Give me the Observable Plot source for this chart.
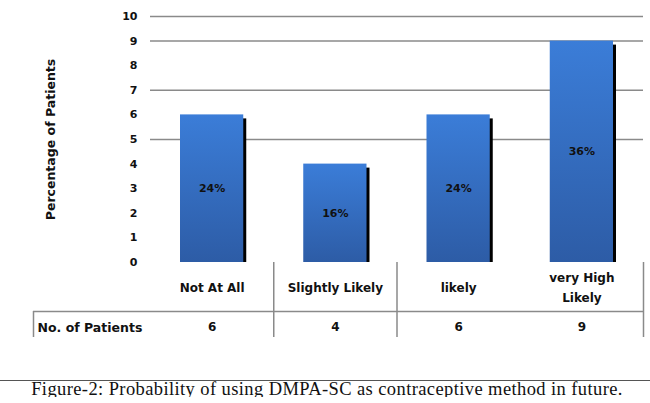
<!DOCTYPE html>
<html>
<head>
<meta charset="utf-8">
<script src="https://cdn.jsdelivr.net/npm/d3@7"></script>
<script src="https://cdn.jsdelivr.net/npm/@observablehq/plot@0.6"></script>
<style>
  html, body { margin: 0; padding: 0; background: #fff; }
  #chart svg { display: block; }
  #caption {
    width: 650px;
    margin-top: 35px;
    border-top: 1.5px solid #555;
    font-family: "Liberation Serif", serif;
    font-size: 18.5px;
    letter-spacing: 0.4px;
    line-height: 16px;
    text-align: center;
    color: #111;
    padding-left: 4px;
    box-sizing: border-box;
    white-space: nowrap;
  }
</style>
</head>
<body>
<div id="chart"></div>
<div id="caption">Figure-2: Probability of using DMPA-SC as contraceptive method in future.</div>
<script>
// ---- data ----
const categories = ["Not At All", "Slightly Likely", "likely", "very High\nLikely"];
const patients = [6, 4, 6, 9];
const percentLabels = ["24%", "16%", "24%", "36%"];
const yTicks = [0, 1, 2, 3, 4, 5, 6, 7, 8, 9, 10];
const gridValues = [5, 7, 9, 10];
const separatorPositions = [1, 2, 4];
const yTitle = "Percentage of Patients";
const rowTitle = "No. of Patients";

const rows = categories.map((c, i) => ({
  cat: c, i0: i, i1: i + 1, mid: i + 0.5,
  value: patients[i], pct: percentLabels[i]
}));

const font = "DejaVu Sans";

const plot = Plot.plot({
  width: 650,
  height: 345,
  marginTop: 16,
  marginBottom: 83,
  marginLeft: 150,
  marginRight: 7,
  style: {background: "#fff", fontFamily: font, color: "#111"},
  x: {domain: [0, categories.length], axis: null},
  y: {domain: [0, 10], axis: null},
  marks: [
    Plot.ruleY(gridValues, {stroke: "#8a8a8a", strokeWidth: 1.5}),
    Plot.axisY({ticks: yTicks, tickSize: 0, tickPadding: 13, tickFormat: d3.format("d"),
      fontSize: 11, fontWeight: "bold", fontFamily: font, label: null, fill: "#111"}),
    Plot.text([yTitle], {frameAnchor: "left", textAnchor: "middle", rotate: -90, dx: -100,
      fontSize: 12.5, fontWeight: "bold", fontFamily: font, fill: "#111"}),
    // bar shadows
    Plot.rectY(rows, {x1: "i0", x2: "i1", y1: 0, y2: "value", fill: "#000",
      insetLeft: 30, insetRight: 30, insetTop: 4, dx: 3}),
    // bars
    Plot.rectY(rows, {x1: "i0", x2: "i1", y1: 0, y2: "value", fill: "url(#barGrad)",
      insetLeft: 30, insetRight: 30}),
    Plot.text(rows, {x: "mid", y: d => d.value / 2, text: "pct", fontSize: 11,
      fontWeight: "bold", fontFamily: font, fill: "#111"}),
    // table: category labels
    Plot.text(rows, {x: "mid", text: "cat", frameAnchor: "bottom", dy: 23,
      lineAnchor: "middle", lineHeight: 1.65, fontSize: 12, fontWeight: "bold",
      fontFamily: font, fill: "#111"}),
    // table lines
    Plot.ruleX(separatorPositions, {insetTop: 246, insetBottom: -75, stroke: "#8a8a8a", strokeWidth: 1.5}),
    Plot.ruleX([0], {dx: -117, insetTop: 295, insetBottom: -75, stroke: "#8a8a8a", strokeWidth: 1.5}),
    Plot.ruleY([0], {dy: 49, insetLeft: -117, insetRight: -1, stroke: "#8a8a8a", strokeWidth: 1.5}),
    // table: patient counts
    Plot.text([rowTitle], {x: 0, frameAnchor: "bottom", dx: -113, dy: 65, textAnchor: "start",
      lineAnchor: "middle", fontSize: 12.5, fontWeight: "bold", fontFamily: font, fill: "#111"}),
    Plot.text(rows, {x: "mid", text: d => String(d.value), frameAnchor: "bottom", dy: 65,
      lineAnchor: "middle", fontSize: 12, fontWeight: "bold", fontFamily: font, fill: "#111"})
  ]
});

d3.select(plot).insert("defs", ":first-child").html(
  '<linearGradient id="barGrad" x1="0" y1="0" x2="0" y2="1">' +
  '<stop offset="0" stop-color="#3b7dd8"/>' +
  '<stop offset="1" stop-color="#2d5ca6"/>' +
  '</linearGradient>');

document.getElementById("chart").appendChild(plot);
</script>
</body>
</html>
